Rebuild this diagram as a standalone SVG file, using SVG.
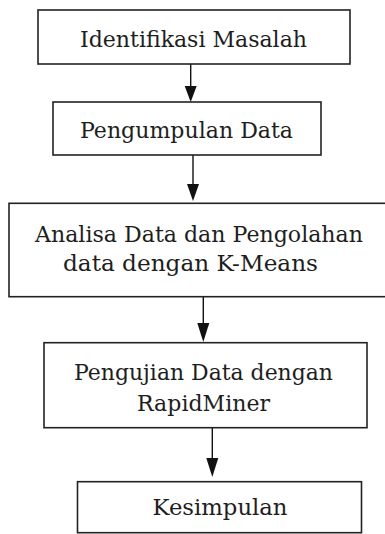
<svg xmlns="http://www.w3.org/2000/svg" width="385" height="534" viewBox="0 0 385 534">
<style>
.box{fill:#fff;stroke:#222;stroke-width:1.6}
.lbl{font-family:"DejaVu Serif","Liberation Serif",serif;font-size:22.5px;fill:#1e1e1e;text-anchor:middle}
.con{stroke:#111;stroke-width:1.4;fill:none}
.head{fill:#111}
</style>
<rect width="385" height="534" fill="#fff"/>
<g id="connectors">
<line class="con" x1="190.7" y1="64" x2="190.7" y2="88"/>
<polygon class="head" points="184.7,86 196.7,86 190.7,102"/>
<line class="con" x1="193" y1="155" x2="193" y2="186"/>
<polygon class="head" points="187,184 199,184 193,201"/>
<line class="con" x1="203.3" y1="297" x2="203.3" y2="325"/>
<polygon class="head" points="197.3,323 209.3,323 203.3,342"/>
<line class="con" x1="212.3" y1="428" x2="212.3" y2="460"/>
<polygon class="head" points="206.3,458 218.3,458 212.3,477"/>
</g>
<g id="n1">
<rect class="box" x="38" y="10" width="312" height="54"/>
<text class="lbl" x="193.5" y="46.7" textLength="227" lengthAdjust="spacingAndGlyphs">Identifikasi Masalah</text>
</g>
<g id="n2">
<rect class="box" x="53" y="102" width="268" height="53"/>
<text class="lbl" x="186.5" y="138.3" textLength="213" lengthAdjust="spacingAndGlyphs">Pengumpulan Data</text>
</g>
<g id="n3">
<rect class="box" x="9" y="203.3" width="382" height="93.4"/>
<text class="lbl" x="199" y="241.7" textLength="328" lengthAdjust="spacingAndGlyphs">Analisa Data dan Pengolahan</text>
<text class="lbl" x="190.5" y="271" textLength="255" lengthAdjust="spacingAndGlyphs">data dengan K-Means</text>
</g>
<g id="n4">
<rect class="box" x="44" y="342.7" width="323" height="85"/>
<text class="lbl" x="203.5" y="380" textLength="259" lengthAdjust="spacingAndGlyphs">Pengujian Data dengan</text>
<text class="lbl" x="203.5" y="410.5" textLength="133" lengthAdjust="spacingAndGlyphs">RapidMiner</text>
</g>
<g id="n5">
<rect class="box" x="77.5" y="481.7" width="284" height="51"/>
<text class="lbl" x="220" y="515" textLength="135" lengthAdjust="spacingAndGlyphs">Kesimpulan</text>
</g>
</svg>
